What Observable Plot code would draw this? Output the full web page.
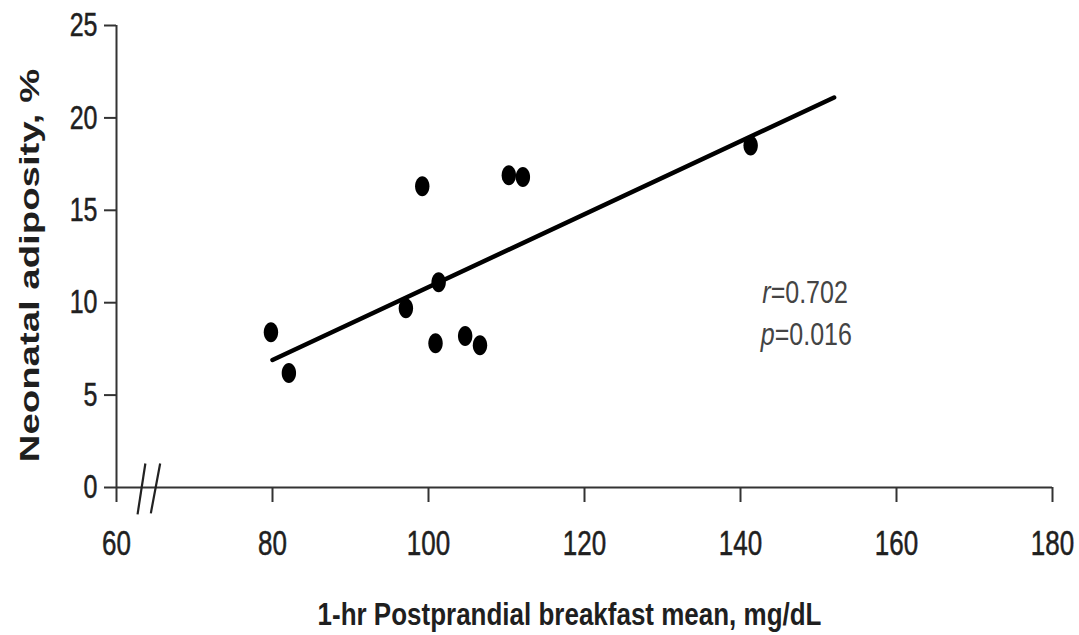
<!DOCTYPE html>
<html>
<head>
<meta charset="utf-8">
<script src="https://cdn.jsdelivr.net/npm/d3@7"></script>
<script src="https://cdn.jsdelivr.net/npm/@observablehq/plot@0.6"></script>
<style>
  html, body { margin: 0; padding: 0; background: #fff; }
  #chart svg { display: block; }
  g.xtick text, g.ytick text { stroke: #1f1f1f; stroke-width: 0.4px; }
</style>
</head>
<body>
<div id="chart"></div>
<script>
// Data
const glucose   = [79.8, 82.1, 99.2, 97.1, 101.3, 100.9, 104.7, 106.6, 110.3, 112.1, 141.3];
const adiposity = [8.4, 6.2, 16.3, 9.7, 11.1, 7.8, 8.2, 7.7, 16.9, 16.8, 18.5];
const fitX = [80, 152];
const fitY = [6.9, 21.1];
const xTicks = [60, 80, 100, 120, 140, 160, 180];
const yTicks = [0, 5, 10, 15, 20, 25];
const statLabels = [
  {sym: "r", value: "=0.702", x: 142.8, y: 10.1},
  {sym: "p", value: "=0.016", x: 142.6, y: 7.8}
];
const breakMarks = [
  {x1: 62.7, y1: -1.45, x2: 63.7, y2: 1.3},
  {x1: 64.4, y1: -1.4, x2: 65.6, y2: 1.3}
];
const xTitle = "1-hr Postprandial breakfast mean, mg/dL";
const yTitle = "Neonatal adiposity, %";

const points = glucose.map((g, i) => ({x: g, y: adiposity[i]}));
const fit = fitX.map((x, i) => ({x, y: fitY[i]}));

const FONT = "'Liberation Sans', Arial, Helvetica, sans-serif";
const INK = "#1f1f1f";

// slightly tall elliptical marker, as in the reference
const ellipse = {
  draw(ctx) {
    const rx = 7.2, ry = 10, k = 0.5523;
    ctx.moveTo(rx, 0);
    ctx.bezierCurveTo(rx, ry * k, rx * k, ry, 0, ry);
    ctx.bezierCurveTo(-rx * k, ry, -rx, ry * k, -rx, 0);
    ctx.bezierCurveTo(-rx, -ry * k, -rx * k, -ry, 0, -ry);
    ctx.bezierCurveTo(rx * k, -ry, rx, -ry * k, rx, 0);
    ctx.closePath();
  }
};

const chart = Plot.plot({
  width: 1079,
  height: 635,
  marginLeft: 116,
  marginRight: 27,
  marginTop: 25,
  marginBottom: 148,
  style: {fontFamily: FONT, color: INK, background: "#fff"},
  x: {domain: [60, 180], axis: null},
  y: {domain: [0, 25], axis: null},
  marks: [
    // axis lines
    Plot.ruleX([60], {y1: 0, y2: 25, stroke: "#333", strokeWidth: 2}),
    Plot.ruleY([0], {x1: 60, x2: 180, stroke: "#333", strokeWidth: 2}),
    Plot.axisY({ticks: yTicks, tickSize: 12, tickPadding: 7, tickFormat: d => d, fontSize: 25, stroke: "#333", strokeWidth: 2, label: null, fill: INK, className: "ytick"}),
    Plot.axisX({ticks: xTicks, tickSize: 15, tickPadding: 31, tickFormat: d => d, fontSize: 26, stroke: "#333", strokeWidth: 2, label: null, fill: INK, className: "xtick"}),
    // break marks
    Plot.link(breakMarks, {x1: "x1", y1: "y1", x2: "x2", y2: "y2", stroke: "#222", strokeWidth: 2.2, clip: false}),
    // regression line
    Plot.line(fit, {x: "x", y: "y", stroke: "#000", strokeWidth: 4.5}),
    // data points
    Plot.dot(points, {x: "x", y: "y", symbol: ellipse, fill: "#000", stroke: "none"}),
    // stats
    Plot.text(statLabels, {x: "x", y: "y", text: d => d.sym + d.value, textAnchor: "start", lineAnchor: "bottom", fontSize: 25, fill: "#444", className: "stat"}),
    // axis titles
    Plot.text([xTitle], {frameAnchor: "bottom", textAnchor: "middle", dx: -15, dy: 136, lineAnchor: "bottom", fontSize: 26, fontWeight: "bold", fill: INK, className: "xtitle"}),
    Plot.text([yTitle], {frameAnchor: "left", textAnchor: "middle", lineAnchor: "middle", dx: -86, dy: 9, rotate: -90, fontSize: 28, fontWeight: "bold", fill: INK, className: "ytitle"})
  ]
});

// italicize the statistic symbol
d3.select(chart).selectAll("g.stat text").each(function (d, i) {
  const s = statLabels[i];
  const t = d3.select(this);
  t.text(null);
  t.append("tspan").attr("font-style", "italic").text(s.sym);
  t.append("tspan").text(s.value);
});

document.getElementById("chart").appendChild(chart);

// the reference's lettering is tall and narrow: stretch each text about its centre
const stretch = [
  ["g.xtick text", 1, 1.34],
  ["g.ytick text", 1, 1.3],
  ["g.stat text", 1, 1.23],
  ["g.xtitle text", 1, 1.18],
  ["g.ytitle text", 1.37, 1]
];
for (const [sel, sx, sy] of stretch) {
  d3.select(chart).selectAll(sel).each(function () {
    const b = this.getBBox();
    const cx = b.x + b.width / 2, cy = b.y + b.height / 2;
    const prev = this.getAttribute("transform") || "";
    this.setAttribute("transform", `${prev} translate(${cx},${cy}) scale(${sx},${sy}) translate(${-cx},${-cy})`);
  });
}
</script>
</body>
</html>
